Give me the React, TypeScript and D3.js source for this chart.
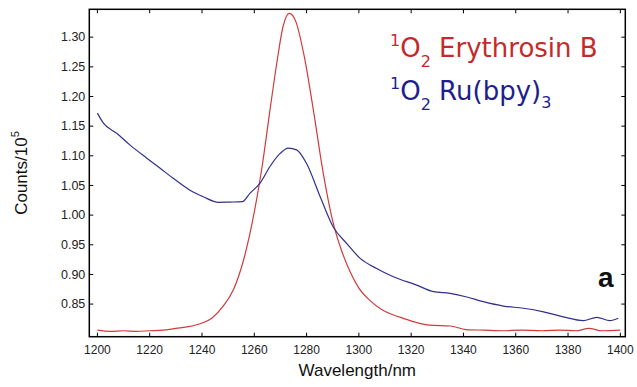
import React, { useEffect, useRef } from "react";
import * as d3 from "d3";

const redWl = [1200, 1205, 1210, 1215, 1220, 1225, 1230, 1235, 1240, 1244, 1248, 1252, 1256, 1260, 1263, 1266, 1268.6, 1271, 1273.4, 1276, 1279, 1282.6, 1286.4, 1290, 1293, 1296.6, 1300, 1304, 1309, 1313, 1317, 1322, 1327, 1335, 1341, 1348, 1355, 1362, 1370, 1377, 1383, 1388, 1393, 1400];
const redVals = [0.806, 0.804, 0.805, 0.804, 0.805, 0.806, 0.809, 0.812, 0.818, 0.827, 0.846, 0.874, 0.926, 1.005, 1.082, 1.177, 1.256, 1.318, 1.34, 1.325, 1.27, 1.177, 1.07, 0.99, 0.945, 0.905, 0.877, 0.857, 0.84, 0.832, 0.826, 0.819, 0.8145, 0.813, 0.807, 0.806, 0.805, 0.806, 0.805, 0.806, 0.805, 0.809, 0.805, 0.806];

const blueWl = [1200, 1202.3, 1207.4, 1212.5, 1218.9, 1224, 1229, 1235.4, 1240.5, 1246.3, 1250.6, 1255.4, 1258.4, 1262.2, 1266, 1269.9, 1273, 1276.2, 1280, 1285.2, 1290.2, 1295.4, 1300.5, 1306.8, 1313.2, 1322.1, 1328.5, 1334.9, 1341.3, 1347.6, 1355.3, 1363, 1370.6, 1378.2, 1385.8, 1391, 1396, 1399.2];
const blueVals = [1.172, 1.155, 1.138, 1.118, 1.096, 1.079, 1.062, 1.042, 1.031, 1.0216, 1.022, 1.0226, 1.037, 1.054, 1.082, 1.104, 1.113, 1.11, 1.087, 1.031, 0.98, 0.952, 0.927, 0.91, 0.896, 0.882, 0.871, 0.868, 0.862, 0.854, 0.8466, 0.843, 0.837, 0.8285, 0.822, 0.8275, 0.822, 0.826];

const xTicks = [1200, 1220, 1240, 1260, 1280, 1300, 1320, 1340, 1360, 1380, 1400];
const yTicks = [0.85, 0.9, 0.95, 1.0, 1.05, 1.1, 1.15, 1.2, 1.25, 1.3];

const W = 637;
const H = 387;

export default function App() {
  const ref = useRef<SVGSVGElement>(null);
  useEffect(() => {
    const svg = d3.select(ref.current);
    svg.selectAll("*").remove();
    const left = 89.3, right = 625.3, top = 9.3, bottom = 336.7;
    const x = d3.scaleLinear().domain([1196.9, 1401.9]).range([left, right]);
    const y = d3.scaleLinear().domain([0.795, 1.347]).range([bottom, top]);
    const font = "'Liberation Sans', Arial, sans-serif";

    const line = d3.line<[number, number]>().x(d => x(d[0])).y(d => y(d[1])).curve(d3.curveMonotoneX);

    svg.append("path")
      .attr("d", line(redWl.map((w, i) => [w, redVals[i]]) as [number, number][]))
      .attr("fill", "none").attr("stroke", "#d23a3a").attr("stroke-width", 1.2);
    svg.append("path")
      .attr("d", line(blueWl.map((w, i) => [w, blueVals[i]]) as [number, number][]))
      .attr("fill", "none").attr("stroke", "#30308f").attr("stroke-width", 1.2);

    svg.append("rect").attr("x", left).attr("y", top).attr("width", right - left).attr("height", bottom - top)
      .attr("fill", "none").attr("stroke", "#000").attr("stroke-width", 1.5);

    const tl = 4;
    const g = svg.append("g");
    xTicks.forEach(t => {
      g.append("line").attr("x1", x(t)).attr("x2", x(t)).attr("y1", bottom).attr("y2", bottom - tl).attr("stroke", "#000");
      g.append("line").attr("x1", x(t)).attr("x2", x(t)).attr("y1", top).attr("y2", top + tl).attr("stroke", "#000");
      g.append("text").attr("x", x(t)).attr("y", bottom + 17).attr("text-anchor", "middle")
        .attr("font-family", font).attr("font-size", 12).attr("fill", "#222").text(String(t));
    });
    yTicks.forEach(t => {
      g.append("line").attr("x1", left).attr("x2", left + tl).attr("y1", y(t)).attr("y2", y(t)).attr("stroke", "#000");
      g.append("line").attr("x1", right).attr("x2", right - tl).attr("y1", y(t)).attr("y2", y(t)).attr("stroke", "#000");
      g.append("text").attr("x", left - 4).attr("y", y(t) + 4.3).attr("text-anchor", "end")
        .attr("font-family", font).attr("font-size", 12.5).attr("fill", "#222").text(t.toFixed(2));
    });

    svg.append("text").attr("x", (left + right) / 2).attr("y", 376).attr("text-anchor", "middle")
      .attr("font-family", font).attr("font-size", 17).attr("fill", "#111").text("Wavelength/nm");

    const yl = svg.append("text").attr("transform", `translate(27,${(top + bottom) / 2}) rotate(-90)`)
      .attr("text-anchor", "middle").attr("font-family", font).attr("font-size", 17).attr("fill", "#111");
    yl.append("tspan").text("Counts/10");
    yl.append("tspan").attr("font-size", 11).attr("dy", -8).text("5");

    const lf = "'DejaVu Sans', Verdana, sans-serif";
    const addLegend = (yb: number, color: string, name: string, sub?: string) => {
      const t = svg.append("text").attr("x", 390).attr("y", yb).attr("font-family", lf).attr("fill", color).attr("font-size", 26);
      t.append("tspan").attr("font-size", 16).attr("dy", -11).text("1");
      t.append("tspan").attr("dy", 11).text("O");
      t.append("tspan").attr("font-size", 16).attr("dy", 10).text("2");
      t.append("tspan").attr("dy", -10).text(" " + name);
      if (sub) t.append("tspan").attr("font-size", 16).attr("dy", 8).text(sub);
    };
    addLegend(57, "#c42a2a", "Erythrosin B");
    addLegend(100, "#1e1e8c", "Ru(bpy)", "3");

    svg.append("text").attr("x", 598).attr("y", 287).attr("font-family", font).attr("font-weight", "bold")
      .attr("font-size", 28).attr("fill", "#111").text("a");
  }, []);
  return (
    <svg ref={ref} width={W} height={H} style={{ position: "absolute", left: 0, top: 0, background: "#fff" }} />
  );
}
